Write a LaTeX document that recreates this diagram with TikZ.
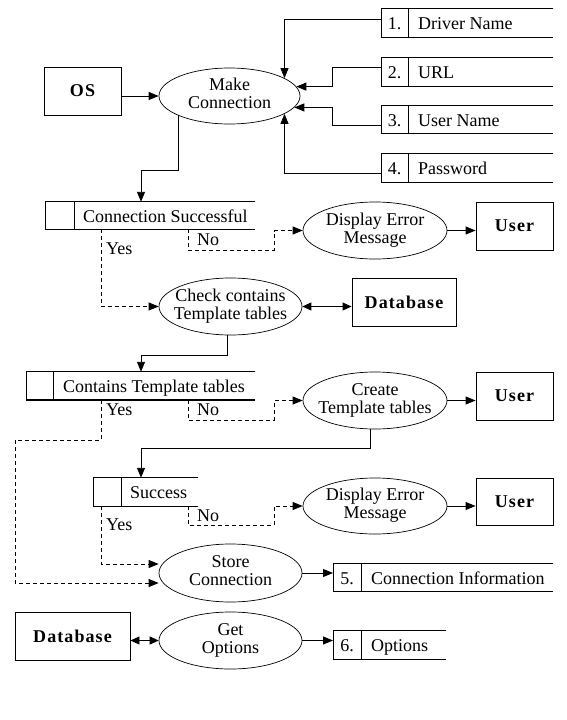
\documentclass[tikz,border=0pt]{standalone}
\usepackage{fontspec}
\setmainfont{Liberation Serif}
\newfontfamily\boldfam{Liberation Serif}[LetterSpace=6]
\usetikzlibrary{shapes.geometric,arrows.meta,calc}
\tikzset{
  line/.style={line width=0.9pt},
  proc/.style={ellipse, draw, line width=0.7pt, inner sep=-14pt, minimum width=143pt, minimum height=57pt, align=center},
  ent/.style={rectangle, draw, line width=0.9pt, inner sep=0pt, minimum height=48pt, font=\boldfam\bfseries\fontsize{18}{18}\selectfont},
  obox/.style={rectangle, inner sep=0pt, minimum height=28pt, anchor=west},
  txt/.style={inner sep=0pt, text height=14.5pt, text depth=1.5pt},
  arr/.style={line, -{Triangle[length=10pt,width=8pt]}},
  darr/.style={arr, dash pattern=on 4pt off 3pt},
  biarr/.style={line, {Triangle[length=9pt,width=8pt]}-{Triangle[length=9pt,width=8pt]}}
}
\newcommand\openbox[2]{%
  \draw[line] (#1.north east) -- (#1.north west) -- (#1.south west) -- (#1.south east);
  \draw[line] ([xshift=#2]#1.north west) -- ([xshift=#2]#1.south west);}
\newcommand\twolines[2]{\strut #1\\#2\strut}
\begin{document}
\begin{tikzpicture}[x=1pt,y=-1pt,font=\fontsize{18}{18}\selectfont]
\fill[white] (0,0) rectangle (567,720);
\useasboundingbox (0,0) rectangle (567,720);

% entities
\node[ent, minimum width=77pt] (os) at (82.5,91) {OS};
\node[ent, minimum width=77pt] (u1) at (514.5,226) {User};
\node[ent, minimum width=104pt] (db1) at (404,302) {Database};
\node[ent, minimum width=77pt] (u2) at (514.5,396) {User};
\node[ent, minimum width=77pt, minimum height=47pt] (u3) at (514.5,501.5) {User};
\node[ent, minimum width=115pt] (db2) at (72.5,636) {Database};

% processes
\node[proc, minimum width=141pt, minimum height=56pt] (mc) at (229.5,96) {\twolines{Make}{Connection}};
\node[proc, minimum width=144pt] (de1) at (375,230.5) {\twolines{Display Error}{Message}};
\node[proc] (ct) at (230.5,306.5) {\twolines{Check contains}{Template tables}};
\node[proc, minimum width=144pt] (cr) at (375,400.5) {\twolines{Create}{Template tables}};
\node[proc, minimum width=144pt, minimum height=56pt] (de2) at (375,506) {\twolines{Display Error}{Message}};
\node[proc, minimum height=58pt] (sc) at (230.5,573) {\twolines{Store}{Connection}};
\node[proc] (go) at (230.5,640.5) {\twolines{Get}{Options}};

% data stores
\node[obox, minimum width=172pt] (s1) at (381,23) {};
\openbox{s1}{27pt}
\node[txt] (s1n) at ([xshift=13.5pt]s1.west) {1.};
\node[txt, anchor=west] (s1t) at ([xshift=37pt]s1.west) {Driver Name};
\node[obox, minimum width=172pt] (s2) at (381,72) {};
\openbox{s2}{27pt}
\node[txt] (s2n) at ([xshift=13.5pt]s2.west) {2.};
\node[txt, anchor=west] (s2t) at ([xshift=37pt]s2.west) {URL};
\node[obox, minimum width=172pt, minimum height=27pt] (s3) at (381,119.5) {};
\openbox{s3}{27pt}
\node[txt] (s3n) at ([xshift=13.5pt]s3.west) {3.};
\node[txt, anchor=west] (s3t) at ([xshift=37pt]s3.west) {User Name};
\node[obox, minimum width=172pt] (s4) at (381,168) {};
\openbox{s4}{27pt}
\node[txt] (s4n) at ([xshift=13.5pt]s4.west) {4.};
\node[txt, anchor=west] (s4t) at ([xshift=37pt]s4.west) {Password};
\node[obox, minimum width=220pt, minimum height=27pt] (s5) at (333,577.5) {};
\openbox{s5}{28pt}
\node[txt] (s5n) at ([xshift=14pt]s5.west) {5.};
\node[txt, anchor=west] (s5t) at ([xshift=38pt]s5.west) {Connection Information};
\node[obox, minimum width=113pt] (s6) at (333,645) {};
\openbox{s6}{28pt}
\node[txt] (s6n) at ([xshift=14pt]s6.west) {6.};
\node[txt, anchor=west] (s6t) at ([xshift=38pt]s6.west) {Options};

% decisions
\node[obox, minimum width=210pt, minimum height=27pt] (cs) at (45,215.5) {};
\openbox{cs}{29pt}
\node[txt, anchor=west] (cst) at ([xshift=38pt]cs.west) {Connection Successful};
\node[obox, minimum width=229pt] (ctt) at (26,386) {};
\openbox{ctt}{27pt}
\draw[line width=1.7pt] (ctt.south west) -- (ctt.south east);
\node[txt, anchor=west] (cttt) at ([xshift=37pt]ctt.west) {Contains Template tables};
\node[obox, minimum width=105pt] (suc) at (93,492) {};
\openbox{suc}{28pt}
\node[txt, anchor=west] (suct) at ([xshift=37pt]suc.west) {Success};

% labels
\node[txt, anchor=west] (yes1) at (106,248) {Yes};
\node[txt, anchor=west] (no1) at (197,239) {No};
\node[txt, anchor=west] (yes2) at (106,409) {Yes};
\node[txt, anchor=west] (no2) at (197,409) {No};
\node[txt, anchor=west] (yes3) at (106,524) {Yes};
\node[txt, anchor=west] (no3) at (197,515) {No};

% helper coordinates
\coordinate (yx) at (101,0);
\coordinate (nx) at (188,0);
\coordinate (xa) at (141,0);
\coordinate (m1) at (178,170);
\coordinate (k2) at (332,0);
\coordinate (n1) at (274,250);
\coordinate (c2) at (227,355);
\coordinate (n2) at (274,420);
\coordinate (y2a) at (15,440);
\coordinate (y2b) at (0,583);
\coordinate (c4) at (370,448);
\coordinate (n3) at (274,525);
\coordinate (y3) at (0,564);

% connectors
\draw[arr] (mc.west -| os.east) -- (mc.west);
\draw[arr] ([yshift=4pt]s1.west) -| (mc.18);
\draw[arr] ([yshift=5pt]s2.west) -| (k2 |- mc.8) -- (mc.8);
\draw[arr] ([yshift=-6pt]s3.west) -| (k2 |- mc.-10) -- (mc.-10);
\draw[arr] ([yshift=-5pt]s4.west) -| (mc.-18);
\draw[arr] (m1 |- mc.200) -- (m1) -| (cs.north -| xa);

\draw[darr] (cs.south -| yx) |- (ct.west);
\draw[darr] (cs.south -| nx) |- (n1) |- (de1.west);
\draw[arr] (de1.east) -- (de1.east -| u1.west);
\draw[biarr] (ct.east) -- (ct.east -| db1.west);
\draw[arr] (ct.south -| c2) -- (c2) -| (ctt.north -| xa);

\draw[darr] (ctt.south -| yx) |- (y2a) |- (sc.west |- y2b);
\draw[darr] (ctt.south -| nx) |- (n2) |- (cr.west);
\draw[arr] (cr.east) -- (cr.east -| u2.west);
\draw[arr] (cr.south -| c4) -- (c4) -| (suc.north -| xa);

\draw[darr] (suc.south -| yx) |- (sc.west |- y3);
\draw[darr] (suc.south -| nx) |- (n3) |- (de2.west);
\draw[arr] (de2.east) -- (de2.east -| u3.west);

\draw[arr] (sc.east) -- (sc.east -| s5.west);
\draw[biarr] (db2.east |- go.west) -- (go.west);
\draw[arr] (go.east) -- (go.east -| s6.west);
\end{tikzpicture}
\end{document}
